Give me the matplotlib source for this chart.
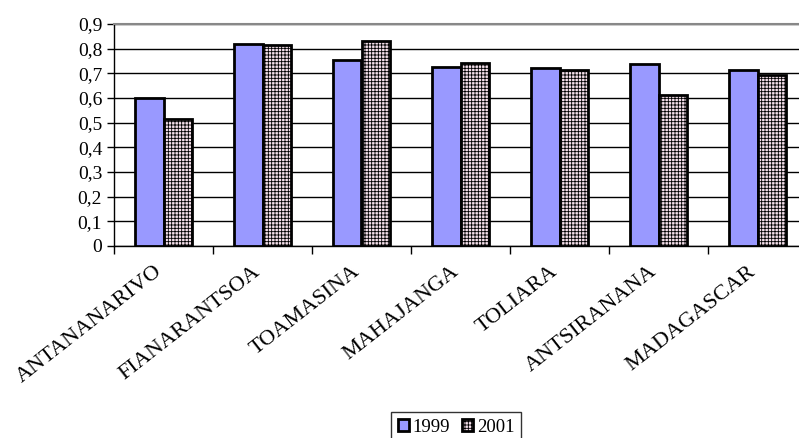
import matplotlib
matplotlib.use('Agg')
import matplotlib.pyplot as plt
import numpy as np
from matplotlib.ticker import FuncFormatter

regions = ["ANTANANARIVO", "FIANARANTSOA", "TOAMASINA", "MAHAJANGA",
           "TOLIARA", "ANTSIRANANA", "MADAGASCAR"]
vals_1999 = [0.60, 0.82, 0.754, 0.724, 0.722, 0.738, 0.712]
vals_2001 = [0.514, 0.813, 0.831, 0.742, 0.713, 0.613, 0.692]

plt.rcParams['font.family'] = 'Liberation Serif'
plt.rcParams['hatch.color'] = '#d99bbb'
plt.rcParams['hatch.linewidth'] = 0.6

fig = plt.figure(figsize=(7.99, 4.38), dpi=100)
ax = fig.add_axes([114/799, 192/438, 693/799, 222/438])

x = np.arange(len(regions))
w = 0.29
ax.bar(x - w/2, vals_1999, w, color='#9999ff', edgecolor='black', linewidth=2,
       label='1999', zorder=3)
ax.bar(x + w/2, vals_2001, w, color='#f4dfea', edgecolor='black', linewidth=2,
       hatch='+++++', label='2001', zorder=3)

ax.set_xlim(-0.5, len(regions) - 0.5)
ax.set_ylim(0, 0.9)
ax.set_yticks(np.arange(0, 0.91, 0.1))
ax.yaxis.set_major_formatter(FuncFormatter(lambda v, pos: ("%.1f" % v).replace('.', ',') if v > 0.01 else "0"))
ax.set_xticks(np.arange(len(regions) + 1) - 0.5)
ax.set_xticklabels([])
ax.tick_params(axis='both', direction='out', length=5, width=1, labelsize=14)
ax.tick_params(axis='x', length=6)
ax.grid(axis='y', color='black', linewidth=1, zorder=0)

for i, name in enumerate(regions):
    ax.text(i - 0.1, -0.065, name, rotation=38, ha='right', va='top',
            fontsize=16, transform=ax.transData, rotation_mode='anchor')

ax.spines['right'].set_visible(False)
ax.spines['top'].set_color('#888888')
ax.spines['top'].set_linewidth(1.5)
ax.spines['left'].set_linewidth(1)
ax.spines['bottom'].set_linewidth(1)

leg = fig.legend(loc='upper center', bbox_to_anchor=(456/799, 1 - 412/438),
                 ncol=2, fontsize=13.5, frameon=True, fancybox=False,
                 edgecolor='black', handlelength=0.6, handleheight=0.6,
                 handletextpad=0.2, columnspacing=0.6, borderpad=0.35,
                 borderaxespad=0)
leg.get_frame().set_linewidth(1)

fig.savefig('out.png', dpi=100)
